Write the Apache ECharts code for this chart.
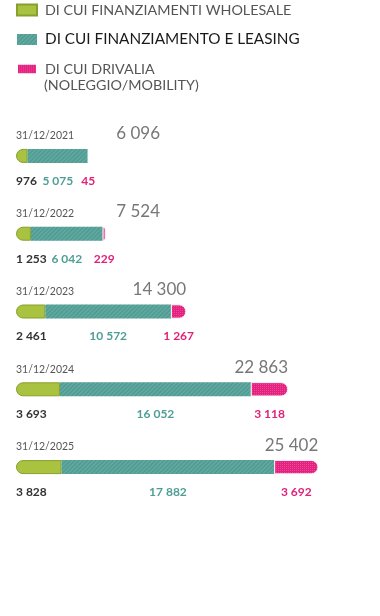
<!DOCTYPE html>
<html>
<head>
<meta charset="utf-8">
<script src="https://cdn.jsdelivr.net/npm/echarts@6/dist/echarts.min.js"></script>
<style>
html,body{margin:0;padding:0;background:#fff;}
#c{width:380px;height:616px;}
</style>
</head>
<body>
<div id="c"></div>
<script>
var categories = ['31/12/2021', '31/12/2022', '31/12/2023', '31/12/2024', '31/12/2025'];
var wholesale = [976, 1253, 2461, 3693, 3828];
var leasing = [5075, 6042, 10572, 16052, 17882];
var drivalia = [45, 229, 1267, 3118, 3692];
var totals = [6096, 7524, 14300, 22863, 25402];
var seriesNames = ['DI CUI FINANZIAMENTI WHOLESALE', 'DI CUI FINANZIAMENTO E LEASING', 'DI CUI DRIVALIA'];
var legendSecondLine = '(NOLEGGIO/MOBILITY)';

function fmt(v){ return String(v).replace(/\B(?=(\d{3})+(?!\d))/g, ' '); }

var FONT = 'Lato';
var chart = echarts.init(document.getElementById('c'), null, {renderer:'canvas'});

function buildOption(totalOffsets){
  return {
    animation: false,
    backgroundColor: '#fff',
    textStyle: {fontFamily: FONT},
    legend: {
      orient: 'vertical',
      left: 16, top: 3, padding: 0,
      itemWidth: 20, itemHeight: 11,
      itemGap: 15,
      icon: 'rect',
      textStyle: {fontFamily: FONT, fontSize: 14.3, color: '#555', padding: [0, 0, 0, 3]},
      data: [
        {name: seriesNames[0]},
        {name: seriesNames[1], textStyle: {color: '#1a1a1a', fontSize: 15.3, padding: [0, 0, 0, 3]}},
        {name: seriesNames[2]}
      ]
    },
    graphic: [{
      type: 'text', left: 44, top: 78,
      style: {text: legendSecondLine, fontFamily: FONT, fontSize: 14.3, fill: '#555'}
    }],
    grid: {left: 16, width: 357, top: 117, height: 389},
    xAxis: {type: 'value', min: 0, max: 30000, show: false},
    yAxis: {type: 'category', data: categories, inverse: true, show: false},
    series: [
      {
        name: 'date', type: 'bar', stack: 'a', barWidth: 14, barGap: '-100%',
        data: categories.map(function(){ return 0; }),
        itemStyle: {color: 'transparent'},
        label: {show: true, position: [0, -13], align: 'left', verticalAlign: 'middle',
          fontFamily: FONT, fontSize: 10.5, color: '#555',
          formatter: function(p){ return categories[p.dataIndex]; }}
      },
      {
        name: seriesNames[0], type: 'bar', stack: 'a', barWidth: 14, barGap: '-100%',
        data: wholesale,
        itemStyle: {color: '#a9c23f', borderColor: '#86a02c', borderWidth: 1, borderRadius: [7, 0, 0, 7]},
        label: {show: true, position: [0, 32], align: 'left', verticalAlign: 'middle',
          fontFamily: FONT, fontSize: 12, fontWeight: 'bold', color: '#333',
          formatter: function(p){ return fmt(p.value); }}
      },
      {
        name: seriesNames[1], type: 'bar', stack: 'a', barWidth: 14, barGap: '-100%',
        data: leasing,
        itemStyle: {color: '#5ea89f',
          decal: {symbol: 'rect', symbolSize: 1, dashArrayX: [1, 0], dashArrayY: [1, 2], rotation: -Math.PI / 4, color: 'rgba(40,110,100,0.3)'}},
        label: {show: true, position: ['50%', 32], align: 'center', verticalAlign: 'middle',
          fontFamily: FONT, fontSize: 12, fontWeight: 'bold', color: '#4f9e95',
          formatter: function(p){ return fmt(p.value); }}
      },
      {
        name: seriesNames[2], type: 'bar', stack: 'a', barWidth: 14, barGap: '-100%',
        data: drivalia,
        itemStyle: {color: '#e4217f', borderColor: '#ffffff', borderWidth: 0.6, borderRadius: [0, 7, 7, 0],
          decal: {symbol: 'rect', symbolSize: 1, dashArrayX: [1, 1], dashArrayY: [1, 1], color: 'rgba(255,255,255,0.18)'}},
        label: {show: true, position: ['50%', 32], align: 'center', verticalAlign: 'middle',
          fontFamily: FONT, fontSize: 12, fontWeight: 'bold', color: '#e0217a',
          formatter: function(p){ return fmt(p.value); }}
      },
      {
        name: 'total', type: 'bar', barWidth: 14, barGap: '-100%', z: 1,
        data: totals.map(function(v, i){
          return {value: v, label: {offset: [totalOffsets ? totalOffsets[i] : 0, 0]}};
        }),
        itemStyle: {color: 'transparent'},
        label: {show: true, position: ['100%', -15], align: 'right', verticalAlign: 'middle',
          fontFamily: FONT, fontSize: 17, color: '#777',
          formatter: function(p){ return fmt(p.value); }}
      }
    ]
  };
}

chart.setOption(buildOption(null));
var minRight = 160;
var offsets = totals.map(function(v){
  var px = chart.convertToPixel({xAxisIndex: 0}, v);
  return px < minRight ? minRight - px : 0;
});
chart.setOption(buildOption(offsets), true);
</script>
</body>
</html>
